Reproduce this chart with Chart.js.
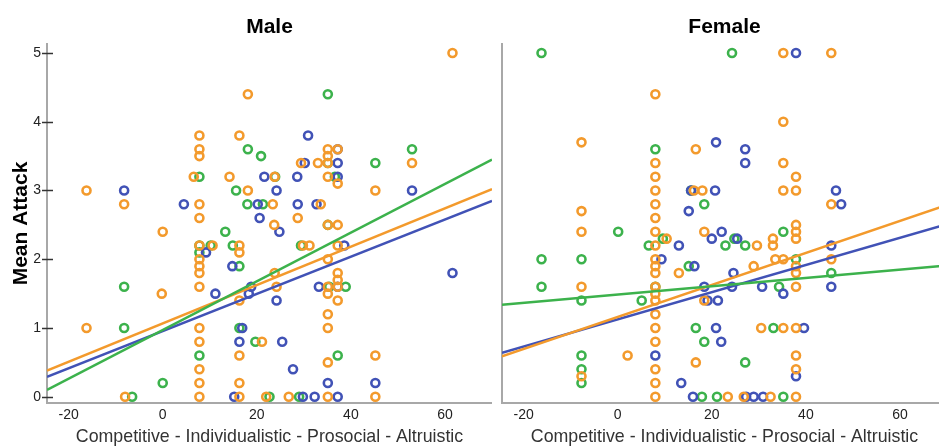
<!DOCTYPE html>
<html>
<head>
<meta charset="utf-8">
<script src="https://cdn.jsdelivr.net/npm/chart.js@4/dist/chart.umd.min.js"></script>
<style>
  html, body { margin: 0; padding: 0; background: #fff; overflow: hidden; }
  #wrap { position: relative; width: 939px; height: 448px; overflow: hidden; }
  #male { position: absolute; left: 0; top: 0; }
  #female { position: absolute; left: 490px; top: 0; }
</style>
</head>
<body>
<div id="wrap">
  <canvas id="male" width="492" height="448"></canvas>
  <canvas id="female" width="457" height="448"></canvas>
</div>
<script>
// axis ticks and ranges
var xTicks = [-20, 0, 20, 40, 60];
var yTicks = [0, 1, 2, 3, 4, 5];
var xRange = [-24.6, 70];
var yRange = [-0.09, 5.13];

// Male panel points [x, y]
var maleOrange = [[-16.2, 3.0], [-16.2, 1.0], [-8.2, 2.8], [-8.0, 0], [0, 2.4], [-0.2, 1.5], [6.6, 3.2],
  [7.8, 3.8], [7.8, 3.6], [7.8, 3.5], [7.8, 2.8], [7.8, 2.6], [7.8, 2.2], [7.8, 2.0], [7.8, 1.9], [7.8, 1.8],
  [7.8, 1.6], [7.8, 1.0], [7.8, 0.8], [7.8, 0.4], [7.8, 0.2], [7.8, 0],
  [10.6, 2.2], [14.2, 3.2], [16.3, 3.8], [16.3, 2.2], [16.3, 2.1], [16.3, 1.4], [16.3, 0.6], [16.3, 0.2], [16.3, 0],
  [18.1, 3.0], [18.1, 4.4], [21.1, 0.8], [22.0, 0], [23.4, 2.8], [23.8, 1.8], [23.8, 3.2], [23.7, 2.5], [24.2, 1.6],
  [26.8, 0], [28.7, 2.6], [29.4, 3.4], [29.8, 2.2], [31.2, 2.2], [33.0, 3.4], [33.6, 2.8],
  [35.1, 3.6], [35.1, 3.5], [35.1, 3.4], [35.1, 3.2], [35.1, 2.5], [35.1, 2.0], [35.1, 1.6], [35.1, 1.5],
  [35.1, 1.2], [35.1, 1.0], [35.1, 0.5], [35.1, 0],
  [37.2, 3.6], [37.2, 3.1], [37.2, 2.5], [37.2, 2.2], [37.2, 1.8], [37.2, 1.7], [37.2, 1.6], [37.2, 1.4],
  [45.2, 3.0], [45.2, 0.6], [45.2, 0], [53, 3.4], [61.6, 5.0]];
var maleBlue = [[-8.2, 3.0], [4.5, 2.8], [9.2, 2.1], [11.2, 1.5], [14.8, 1.9], [15.2, 0], [16.9, 1.0], [16.3, 0.8],
  [18.3, 1.5], [18.8, 1.6], [20.2, 2.8], [20.6, 2.6], [21.6, 3.2], [24.2, 1.4], [24.2, 3.0], [24.8, 2.4], [25.4, 0.8],
  [27.7, 0.4], [28.6, 3.2], [28.7, 2.8], [29.8, 0], [30.2, 3.4], [30.9, 3.8], [32.3, 0], [32.7, 2.8], [33.2, 1.6],
  [35.1, 0.2], [37.2, 3.6], [37.2, 3.4], [37.2, 3.2], [38.6, 2.2], [37.2, 1.6], [37.2, 0], [45.2, 0.2],
  [53, 3.0], [61.6, 1.8]];
var maleGreen = [[-8.2, 1.6], [-8.2, 1.0], [-6.5, 0], [0, 0.2], [7.8, 3.2], [7.8, 2.2], [7.8, 2.1], [7.8, 0.6],
  [10.2, 2.2], [13.3, 2.4], [14.9, 2.2], [15.6, 3.0], [16.3, 1.9], [16.3, 1.0], [18.1, 3.6], [18.0, 2.8],
  [20.9, 3.5], [21.3, 2.8], [19.7, 0.8], [22.7, 0], [23.9, 3.2], [29.4, 2.2], [29.0, 0],
  [35.1, 4.4], [35.1, 3.4], [35.1, 2.5], [35.4, 1.6], [36.6, 3.2], [37.2, 0.6], [38.9, 1.6],
  [45.2, 3.4], [53, 3.6]];

// Female panel points [x, y]
var femaleOrange = [[-7.7, 3.7], [-7.7, 2.7], [-7.7, 2.4], [-7.7, 1.6], [-7.7, 0.3], [2.1, 0.6],
  [8, 4.4], [8, 3.4], [8, 3.2], [8, 3.0], [8, 2.8], [8, 2.6], [8, 2.4], [8, 2.2], [8, 2.0], [8, 1.9], [8, 1.8],
  [8, 1.6], [8, 1.5], [8, 1.4], [8, 1.2], [8, 1.0], [8, 0.8], [8, 0.4], [8, 0.2], [8, 0],
  [10.4, 2.3], [13, 1.8], [16.6, 3.6], [16.2, 3.0], [18, 3.0], [16.6, 0.5], [18.4, 2.4], [18.4, 1.4],
  [23.4, 0], [26.8, 0], [28.9, 1.9], [29.6, 2.2], [30.5, 1.0], [32.5, 0], [33, 2.3], [33, 2.2], [33.5, 2.0],
  [35.2, 5.0], [35.2, 4.0], [35.2, 3.4], [35.2, 3.0], [35.2, 2.0], [35.2, 1.0],
  [37.9, 3.2], [37.9, 3.0], [37.9, 2.5], [37.9, 2.4], [37.9, 2.3], [37.9, 1.9], [37.9, 1.8], [37.9, 1.6],
  [37.9, 1.0], [37.9, 0.6], [37.9, 0.4], [37.9, 0], [45.4, 5.0], [45.4, 2.8], [45.4, 2.0]];
var femaleBlue = [[9.3, 2.0], [8, 0.6], [13, 2.2], [13.5, 0.2], [15.1, 2.7], [15.6, 3.0], [16.3, 1.9], [16, 0],
  [18.4, 1.6], [19.1, 1.4], [20.7, 3.0], [20.9, 3.7], [20.9, 1.0], [21.3, 1.4], [20, 2.3], [22.1, 2.4], [22, 0.8],
  [24.3, 1.6], [24.6, 1.8], [25.4, 2.3], [27.1, 3.6], [27.1, 3.4], [27.3, 0], [28.9, 0], [30.9, 0], [30.7, 1.6],
  [35.2, 1.5], [37.9, 5.0], [39.6, 1.0], [37.9, 0.3], [45.4, 2.2], [45.4, 1.6], [46.4, 3.0], [47.5, 2.8]];
var femaleGreen = [[-16.2, 5.0], [-16.2, 2.0], [-16.2, 1.6], [-7.7, 2.0], [-7.7, 1.4], [-7.7, 0.6], [-7.7, 0.4],
  [-7.7, 0.2], [0.1, 2.4], [5.1, 1.4], [6.6, 2.2], [8, 3.6], [8, 1.6], [9.6, 2.3], [15.1, 1.9], [15.6, 3.0],
  [16.6, 1.0], [17.9, 0], [18.4, 2.8], [18.4, 0.8], [21.1, 0], [22.9, 2.2], [24.3, 5.0], [24.8, 2.3],
  [27.1, 2.2], [27.1, 0.5], [34.3, 1.6], [33.1, 1.0], [35.2, 2.4], [35.2, 0], [37.9, 2.0], [45.4, 1.8]];

// fit lines: y at xRange[0] and xRange[1]
var maleLines = { orange: [0.38, 3.02], blue: [0.29, 2.85], green: [0.10, 3.45] };
var femaleLines = { orange: [0.59, 2.79], blue: [0.64, 2.51], green: [1.34, 1.91] };

var colors = { orange: '#f39a2c', blue: '#4152b6', green: '#3cb24c' };
var fontFamily = "'Liberation Sans', Arial, sans-serif";

// small plugin: tick marks crossing the y axis (SPSS style)
var crossTicks = {
  id: 'crossTicks',
  afterDraw: function (chart) {
    var y = chart.scales.y;
    var left = chart.chartArea.left;
    var ctx = chart.ctx;
    ctx.save();
    ctx.strokeStyle = '#333';
    ctx.lineWidth = 1.5;
    y.ticks.forEach(function (t) {
      var py = Math.round(y.getPixelForValue(t.value)) + 0.5;
      ctx.beginPath();
      ctx.moveTo(left - 5, py);
      ctx.lineTo(left + 6, py);
      ctx.stroke();
    });
    ctx.restore();
  }
};

function toPoints(arr) {
  return arr.map(function (p) { return { x: p[0], y: p[1] }; });
}

function lineSet(ends, color) {
  return {
    data: [{ x: xRange[0], y: ends[0] }, { x: xRange[1], y: ends[1] }],
    showLine: true, borderColor: color, borderWidth: 2.5, pointRadius: 0
  };
}

function pointSet(arr, color) {
  return {
    data: toPoints(arr), showLine: false, pointStyle: 'circle',
    pointRadius: 4, borderWidth: 2.6, borderColor: color, backgroundColor: 'rgba(0,0,0,0)'
  };
}

function makeChart(id, title, pts, lines, yWidth, showY) {
  var datasets = [
    lineSet(lines.green, colors.green),
    lineSet(lines.orange, colors.orange),
    lineSet(lines.blue, colors.blue),
    pointSet(pts.orange, colors.orange),
    pointSet(pts.blue, colors.blue),
    pointSet(pts.green, colors.green)
  ];
  return new Chart(document.getElementById(id).getContext('2d'), {
    type: 'scatter',
    data: { datasets: datasets },
    plugins: showY ? [crossTicks] : [],
    options: {
      responsive: false,
      animation: false,
      events: [],
      layout: { padding: 0, autoPadding: false },
      plugins: {
        legend: { display: false },
        tooltip: { enabled: false },
        title: {
          display: true, text: title, fullSize: false, color: '#000',
          font: { family: fontFamily, size: 21, weight: 'bold', lineHeight: 1.2 },
          padding: { top: 15, bottom: 3.8 }
        }
      },
      scales: {
        x: {
          type: 'linear', min: xRange[0], max: xRange[1],
          afterBuildTicks: function (s) { s.ticks = xTicks.map(function (v) { return { value: v }; }); },
          afterFit: function (s) { s.height = 45; },
          grid: { display: false, drawTicks: false },
          border: { display: true, color: '#a8a8a8', width: 2 },
          ticks: { color: '#222', padding: 4, font: { family: fontFamily, size: 14 } },
          title: {
            display: true, text: 'Competitive - Individualistic - Prosocial - Altruistic',
            color: '#333', font: { family: fontFamily, size: 17.8 }, padding: 0
          }
        },
        y: {
          type: 'linear', min: yRange[0], max: yRange[1],
          afterBuildTicks: function (s) { s.ticks = yTicks.map(function (v) { return { value: v }; }); },
          afterFit: function (s) { s.width = yWidth; },
          grid: { display: false, drawTicks: false },
          border: { display: true, color: '#a8a8a8', width: 2 },
          ticks: { display: showY, color: '#222', padding: 6, font: { family: fontFamily, size: 14 } },
          title: {
            display: showY, text: 'Mean Attack', color: '#000',
            font: { family: fontFamily, size: 21, weight: 'bold', lineHeight: 1.2 },
            padding: { top: 8.4, bottom: 0 }
          }
        }
      }
    }
  });
}

makeChart('male', 'Male', { orange: maleOrange, blue: maleBlue, green: maleGreen }, maleLines, 47, true);
makeChart('female', 'Female', { orange: femaleOrange, blue: femaleBlue, green: femaleGreen }, femaleLines, 12, false);
</script>
</body>
</html>
